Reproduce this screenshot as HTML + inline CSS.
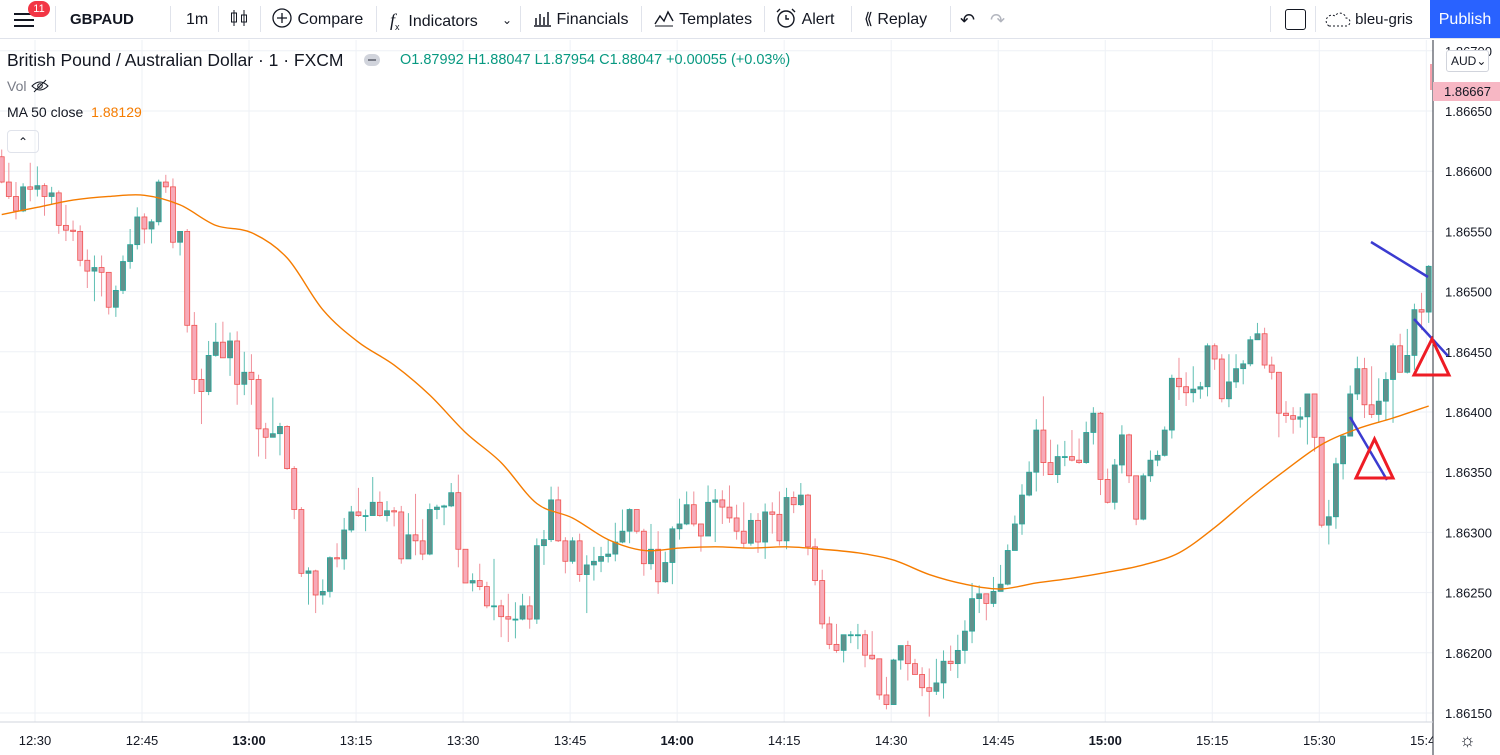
<!DOCTYPE html>
<html><head><meta charset="utf-8"><style>
*{margin:0;padding:0;box-sizing:border-box}
body{width:1500px;height:755px;overflow:hidden;background:#fff;font-family:"Liberation Sans",sans-serif;color:#131722;position:relative}
.tb{position:absolute;left:0;top:0;width:1500px;height:39px;border-bottom:1px solid #e0e3eb;background:#fff}
.ti{position:absolute;top:0;height:38px;line-height:40px;font-size:16px;color:#131722;white-space:nowrap}
.sep{position:absolute;top:6px;width:1px;height:26px;background:#e0e3eb}
.lg{position:absolute;white-space:nowrap}
</style></head><body>
<div class="tb">
 <div class="ti" style="left:14px;top:10px;width:22px;height:20px">
  <div style="position:absolute;top:3px;width:20px;height:2px;background:#131722"></div>
  <div style="position:absolute;top:9px;width:20px;height:2px;background:#131722"></div>
  <div style="position:absolute;top:15px;width:20px;height:2px;background:#131722"></div>
  <div style="position:absolute;left:14px;top:-9px;width:22px;height:16px;border-radius:8px;background:#f23645;color:#fff;font-size:11px;line-height:16px;text-align:center">11</div>
 </div>
 <div class="sep" style="left:55px"></div>
 <div class="ti" style="left:70px;font-weight:bold;font-size:15px">GBPAUD</div>
 <div class="sep" style="left:170px"></div>
 <div class="ti" style="left:186px">1m</div>
 <div class="sep" style="left:218px"></div>
 <div class="ti" style="left:229px"><svg width="20" height="20" style="vertical-align:-4px"><path d="M5 2v16M15 2v16" stroke="#131722"/><rect x="2.5" y="5" width="5" height="9" fill="none" stroke="#131722"/><rect x="12.5" y="7" width="5" height="7" fill="none" stroke="#131722"/></svg></div>
 <div class="sep" style="left:260px"></div>
 <div class="ti" style="left:271px"><svg width="22" height="22" style="vertical-align:-5px"><circle cx="11" cy="11" r="9" fill="none" stroke="#131722" stroke-width="1.3"/><path d="M11 6v10M6 11h10" stroke="#131722" stroke-width="1.3"/></svg> Compare</div>
 <div class="sep" style="left:376px"></div>
 <div class="ti" style="left:390px"><i style="font-family:'Liberation Serif',serif;font-size:18px">f</i><sub style="font-size:9px">x</sub>&nbsp; Indicators</div>
 <div class="ti" style="left:502px;font-size:12px">&#8964;</div>
 <div class="sep" style="left:520px"></div>
 <div class="ti" style="left:532px"><svg width="20" height="18" style="vertical-align:-3px"><path d="M2 17h17M4 16V9M8 16V5M12 16V8M16 16V3" stroke="#131722" stroke-width="1.5"/></svg> Financials</div>
 <div class="sep" style="left:641px"></div>
 <div class="ti" style="left:653px"><svg width="22" height="18" style="vertical-align:-3px"><path d="M2 15l5-8 4 5 4-9 5 9" fill="none" stroke="#131722" stroke-width="1.4"/><path d="M2 17h18" stroke="#131722"/></svg> Templates</div>
 <div class="sep" style="left:764px"></div>
 <div class="ti" style="left:774px"><svg width="24" height="22" style="vertical-align:-5px"><circle cx="12" cy="12" r="8" fill="none" stroke="#131722" stroke-width="1.4"/><path d="M12 8v4h3M3 5l3-3M21 5l-3-3" stroke="#131722" stroke-width="1.4" fill="none"/></svg> Alert</div>
 <div class="sep" style="left:851px"></div>
 <div class="ti" style="left:864px">&#10218;&nbsp;Replay</div>
 <div class="sep" style="left:950px"></div>
 <div class="ti" style="left:960px;font-size:18px">&#8630;</div>
 <div class="ti" style="left:990px;font-size:18px;color:#b2b5be">&#8631;</div>
 <div class="sep" style="left:1270px"></div>
 <div class="ti" style="left:1285px;top:9px;width:21px;height:21px;border:1.5px solid #131722;border-radius:3px"></div>
 <div class="sep" style="left:1315px"></div>
 <div class="ti" style="left:1323px;font-size:15px"><svg width="28" height="18" style="vertical-align:-4px"><path d="M6 16h17a4 4 0 0 0 0-8 6 6 0 0 0-11-2 5 5 0 0 0-6 10z" fill="none" stroke="#131722" stroke-dasharray="2 2"/></svg> bleu-gris</div>
 <div class="ti" style="left:1430px;width:70px;background:#2962ff;color:#fff;text-align:center;font-size:16px">Publish</div>
</div>

<div class="lg" style="left:7px;top:50px;font-size:17.5px">British Pound / Australian Dollar · 1 · FXCM</div>
<div class="lg" style="left:364px;top:54px;width:16px;height:12px;border-radius:6px;background:#d1d4dc"><div style="margin:5px 4px;width:8px;height:2px;background:#787b86"></div></div>
<div class="lg" style="left:400px;top:52px;font-size:14.5px;color:#089981">O1.87992 H1.88047 L1.87954 C1.88047 +0.00055 (+0.03%)</div>
<div class="lg" style="left:7px;top:78px;font-size:14px;color:#787b86">Vol <svg width="20" height="14" style="vertical-align:-2px"><path d="M2 7q8-8 16 0q-8 8-16 0z" fill="none" stroke="#131722"/><circle cx="10" cy="7" r="2.3" fill="none" stroke="#131722"/><path d="M4 13L16 1" stroke="#131722"/></svg></div>
<div class="lg" style="left:7px;top:104px;font-size:14px;color:#131722">MA 50 close <span style="color:#f57c00;margin-left:4px">1.88129</span></div>
<div class="lg" style="left:7px;top:130px;width:32px;height:23px;border:1px solid #e0e3eb;border-radius:4px;text-align:center;font-size:12px;line-height:22px">&#8963;</div>

<svg id="chart" width="1500" height="755" style="position:absolute;left:0;top:0;z-index:-1"></svg>

<div class="lg" style="left:1446px;top:50px;width:43px;height:22px;border:1px solid #d1d4dc;border-radius:3px;background:#fff;font-size:12px;line-height:20px;padding-left:4px">AUD&#8964;</div>
<div class="lg" style="left:1433px;top:82px;width:67px;height:19px;background:#f7b7c4;font-size:13px;line-height:19px;padding-left:11px">1.86667</div>
<div class="lg" style="left:1459px;top:730px;font-size:18px">&#9788;</div>

<script>
// price values in points above 1.86000 (price = 1.86 + pts/100000)
const firstOpenPts = 612;
const closePts = [591,579,567,587,585,588,579,582,555,551,550,526,517,520,516,487,501,525,539,562,552,558,591,587,541,550,472,427,417,447,458,445,459,423,433,427,386,379,382,388,353,319,266,268,248,251,279,278,302,317,314,
314,325,314,318,317,278,298,293,282,319,321,322,333,286,258,260,255,239,239,230,228,228,239,228,289,294,327,293,276,293,265,273,276,280,282,292,301,319,301,274,286,259,275,303,307,323,307,297,325,327,321,312,301,291,310,292,317,315,293,329,323,331,288,260,224,207,202,215,215,215,198,195,165,157,194,206,191,182,171,168,175,193,191,202,218,245,249,241,251,257,285,307,331,350,385,358,348,363,363,360,358,383,399,344,325,356,381,347,311,347,360,364,385,428,421,416,419,421,455,444,411,425,436,440,460,465,439,433,399,397,394,396,415,379,306,313,357,380,415,436,406,398,409,427,455,433,447,485,483,521];
const highPts = [618,607,591,590,607,604,590,587,584,572,559,555,535,530,530,516,505,530,552,570,565,560,593,597,594,550,552,483,436,459,474,475,466,467,450,448,431,391,412,391,389,355,321,271,269,261,280,291,312,322,337,
319,346,334,326,321,322,316,332,311,324,323,323,341,348,286,266,274,259,278,244,249,242,249,247,295,302,338,338,296,296,299,281,288,288,294,308,319,320,319,303,307,301,284,305,328,334,334,307,339,336,335,339,323,325,316,316,324,325,334,337,334,341,332,295,269,230,224,215,218,224,219,218,195,180,195,206,210,195,188,187,195,202,206,215,227,258,256,249,263,273,290,314,340,359,394,413,377,373,376,385,378,392,404,400,353,361,389,382,347,349,368,368,388,431,445,433,438,425,457,457,448,448,448,443,463,474,470,446,433,409,404,404,415,415,379,327,362,381,422,446,445,438,428,433,457,465,469,490,499,522];
const lowPts = [590,577,560,566,575,579,563,572,548,542,542,521,503,492,496,481,479,498,519,535,540,540,555,582,536,530,466,415,390,414,446,445,430,406,414,406,363,361,379,364,352,311,263,240,233,240,246,271,269,300,313,
301,314,313,309,305,274,278,281,277,281,311,306,321,271,258,251,252,237,227,213,209,212,227,220,224,273,292,292,266,274,259,233,260,267,275,276,291,291,299,264,269,249,258,257,294,306,305,284,297,292,307,308,294,287,289,283,278,299,289,286,316,322,281,256,220,203,200,192,208,203,188,194,161,153,157,186,177,182,164,147,165,162,185,179,191,208,233,227,238,251,256,285,298,330,334,347,348,341,355,359,357,357,373,331,324,319,349,341,306,310,342,355,363,378,410,405,408,411,413,435,408,404,420,423,438,460,436,427,379,391,382,387,373,367,304,290,303,344,380,410,395,395,391,393,391,433,432,435,468,474];
// MA(50) read every 5 candles
const maStep = 5;
const maPts = [564,570,576,579,580,572,555,549,528,485,458,439,414,383,358,324,312,294,285,287,288,287,288,286,283,277,265,257,253,258,262,267,273,283,304,329,352,373,386,395,405];
const priceTicks = [1.8615,1.862,1.8625,1.863,1.8635,1.864,1.8645,1.865,1.8655,1.866,1.8665,1.867];
const timeLabels = ["12:30","12:45","13:00","13:15","13:30","13:45","14:00","14:15","14:30","14:45","15:00","15:15","15:30","15:45"];
const timeBold = [false,false,true,false,false,false,true,false,false,false,true,false,false,false];

const NS="http://www.w3.org/2000/svg";
const svg=document.getElementById('chart');
const P=v=>1.86+v/100000;
const yOf=p=>111+(1.8665-p)*120400;
const xOf=i=>1.7+i*7.135;
const xTime=k=>35+k*15*7.135;
function mk(tag,attrs){const e=document.createElementNS(NS,tag);for(const k in attrs)e.setAttribute(k,attrs[k]);svg.appendChild(e);return e;}

priceTicks.forEach((p,j)=>{const y=yOf(p);if(y<40||y>722)return;
 const g=mk('line',{x1:0,x2:1433,y1:y,y2:y,stroke:'#eef1f6','stroke-width':1});
 
 
});
timeLabels.forEach((t,k)=>{const x=xTime(k);
 const g=mk('line',{x1:x,x2:x,y1:40,y2:722,stroke:'#eef1f6','stroke-width':1});
 
 
});

closePts.forEach((c,i)=>{
 const o=i===0?firstOpenPts:closePts[i-1];
 const up=c>=o;const x=xOf(i);
 const yo=yOf(P(o)),yc=yOf(P(c)),yh=yOf(P(highPts[i])),yl=yOf(P(lowPts[i]));
 const w=mk('line',{x1:x,x2:x,y1:yh,y2:yl,stroke:up?'#5fbfb3':'#f0909a','stroke-width':1});
 
 
 const top=Math.min(yo,yc),h=Math.max(1,Math.abs(yo-yc));
 const b=mk('rect',{x:x-2.5,y:top,width:5,height:h,fill:up?'#62918c':'#f7aab8',stroke:up?'#26a69a':'#ef5350','stroke-width':0.8});
 
 
});

const mp=maPts.map((v,k)=>[xOf(k*maStep),yOf(P(v))]);
let d='M'+mp[0][0]+' '+mp[0][1];
for(let k=0;k<mp.length-1;k++){
 const p0=mp[Math.max(0,k-1)],p1=mp[k],p2=mp[k+1],p3=mp[Math.min(mp.length-1,k+2)];
 const c1=[p1[0]+(p2[0]-p0[0])/6,p1[1]+(p2[1]-p0[1])/6],c2=[p2[0]-(p3[0]-p1[0])/6,p2[1]-(p3[1]-p1[1])/6];
 d+=' C'+c1.join(' ')+' '+c2.join(' ')+' '+p2.join(' ');
}
const ma=mk('path',{d:d,fill:'none',stroke:'#f57c00','stroke-width':1.4,'stroke-linejoin':'round'});



timeLabels.forEach((s,k)=>{
 const t=mk('text',{x:xTime(k),y:745,'font-size':13,fill:'#131722','text-anchor':'middle','font-weight':timeBold[k]?'bold':'normal','font-family':'Liberation Sans, sans-serif'});
 t.textContent=s;
 
 
});
const cov=mk('rect',{x:1433,y:40,width:67,height:715,fill:'#fff'});


const ab=mk('line',{x1:1433,x2:1433,y1:40,y2:755,stroke:'#2a2e39','stroke-width':1});


const tb=mk('line',{x1:0,x2:1433,y1:722,y2:722,stroke:'#d1d4dc','stroke-width':1});


priceTicks.forEach(p=>{const y=yOf(p);if(y<45||y>722)return;
 const t=mk('text',{x:1445,y:y+5,'font-size':13,fill:'#131722','font-family':'Liberation Sans, sans-serif'});
 t.textContent=p.toFixed(5);
 
 
});
const tick=mk('line',{x1:1431,x2:1431,y1:64,y2:90,stroke:'#f28090','stroke-width':1.5});



// drawings on top (extend over price axis)
[[1371,242,1428,277],[1414,319,1448,356],[1350,417,1387,480]].forEach(l=>{
 const e=mk('line',{x1:l[0],y1:l[1],x2:l[2],y2:l[3],stroke:'#3b3bd0','stroke-width':2.5});
 
 
});
[[1374.5,439,1356,478,1393,478],[1432,339,1414,375,1449,375]].forEach(t=>{
 const e=mk('polygon',{points:t.join(' '),fill:'none',stroke:'#ee1c25','stroke-width':3});
 
 
});
</script>
</body></html>
